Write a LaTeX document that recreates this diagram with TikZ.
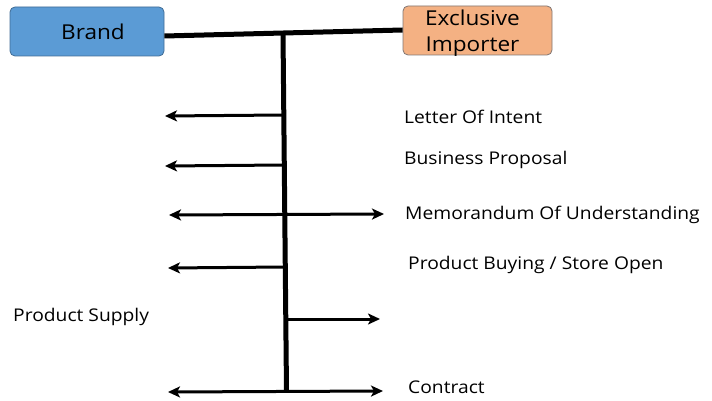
\documentclass[tikz,border=0pt]{standalone}
\usepackage{fontspec}
\setmainfont{Open Sans}[FakeStretch=1.1]
\usetikzlibrary{arrows.meta}
\begin{document}
\begin{tikzpicture}[x=1pt,y=-1pt,
  box/.style={draw=#1!70!black, line width=0.8pt, rounded corners=5pt, inner sep=0pt,
              minimum height=49pt},
  boxtext/.style={inner sep=0pt, align=center},
  trunk/.style={line width=5pt},
  branch/.style={line width=3pt, -{Stealth[length=12pt,width=11pt,inset=3pt]}},
  twoway/.style={line width=3pt, {Stealth[length=12pt,width=11pt,inset=3pt]}-{Stealth[length=12pt,width=11pt,inset=3pt]}},
  label/.style={anchor=west, inner sep=0pt, font=\fontsize{17.5}{20}\selectfont}]
\useasboundingbox (0,0) rectangle (712,401);
\definecolor{brandblue}{HTML}{5B9BD5}
\definecolor{importerorange}{HTML}{F4B183}

% parties
\node[box=brandblue, fill=brandblue, minimum width=154pt] (brand) at (87,31.5) {};
\node[boxtext, font=\fontsize{20.5}{22}\selectfont] (brandtext) at ([xshift=6pt]brand.center) {Brand};
\node[box=importerorange!60!brandblue, fill=importerorange, minimum width=149pt] (importer) at (477.5,30.5) {};
\node[boxtext, font=\fontsize{20.5}{26}\selectfont] (importertext) at ([xshift=-5pt,yshift=-2.5pt]importer.center) {Exclusive\\Importer};

% trunk lines
\coordinate (top) at (283,33);
\coordinate (bottom) at (286.5,392);
\draw[trunk] (brand.east |- 0,36) -- (importer.west |- 0,30);
\draw[trunk] (top) -- (bottom);

% branch end points
\coordinate (a1) at (283.5,115);   \coordinate (l1) at (165,116);
\coordinate (a2) at (284,165);     \coordinate (l2) at (165,166);
\coordinate (a3) at (284.5,214.5); \coordinate (l3) at (169,215); \coordinate (r3) at (384,214);
\coordinate (a4) at (285,267);     \coordinate (l4) at (168,268);
\coordinate (a5) at (286,319);     \coordinate (r5) at (380,319);
\coordinate (l6) at (168,392);     \coordinate (r6) at (383,391);

\draw[branch] (a1) -- (l1);
\draw[branch] (a2) -- (l2);
\draw[twoway] (l3) -- (r3);
\draw[branch] (a4) -- (l4);
\draw[branch] (a5) -- (r5);
\draw[twoway] (l6) -- (r6);

% step labels
\node[label] (t1) at (404,117) {Letter Of Intent};
\node[label] (t2) at (404,160) {Business Proposal};
\node[label] (t3) at (405,215) {Memorandum Of Understanding};
\node[label] (t4) at (408,265) {Product Buying / Store Open};
\node[label] (t5) at (13,317) {Product Supply};
\node[label] (t6) at (408,387) {Contract};
\end{tikzpicture}
\end{document}
